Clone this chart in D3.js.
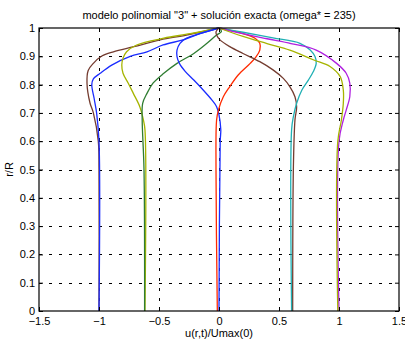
<!DOCTYPE html>
<html><head><meta charset="utf-8">
<script src="https://cdn.jsdelivr.net/npm/d3@7"></script>
<style>
html,body{margin:0;padding:0;background:#fff;}
svg text{font-family:"Liberation Sans",Arial,Helvetica,sans-serif;}
</style></head>
<body><svg id="c" width="405" height="342"></svg>
<script>
// ---- data: each profile is a list of [u/Umax, r/R] pairs ----
const xTicks = [-1.5, -1, -0.5, 0, 0.5, 1, 1.5];
const yTicks = [0, 0.1, 0.2, 0.3, 0.4, 0.5, 0.6, 0.7, 0.8, 0.9, 1];
const titleText = 'modelo polinomial "3" + solución exacta (omega* = 235)';
const xLabel = "u(r,t)/Umax(0)";
const yLabel = "r/R";

const brownA = [[-1.0,0],[-1.0,0.5],[-1.006,0.6],[-1.047,0.7],[-1.075,0.735],[-1.1,0.805],[-1.09,0.85],[-1.047,0.875],[-0.98,0.9],[-0.88,0.916],[-0.71,0.934],[-0.49,0.958],[-0.27,0.975],[0,1]];
const blueA = [[-1.0,0],[-1.0,0.6],[-1.02,0.7],[-1.04,0.75],[-1.06,0.8],[-1.047,0.82],[-0.99,0.84],[-0.894,0.869],[-0.74,0.9],[-0.6,0.916],[-0.466,0.94],[-0.3,0.958],[-0.16,0.98],[0,1]];
const oliveA = [[-0.617,0],[-0.617,0.64],[-0.63,0.675],[-0.66,0.722],[-0.714,0.769],[-0.756,0.805],[-0.8,0.84],[-0.81,0.869],[-0.80,0.893],[-0.77,0.916],[-0.686,0.94],[-0.46,0.964],[-0.24,0.98],[0,1]];
const greenA = [[-0.62,0],[-0.625,0.5],[-0.64,0.675],[-0.636,0.734],[-0.6,0.769],[-0.55,0.805],[-0.46,0.84],[-0.35,0.875],[-0.21,0.91],[-0.10,0.946],[-0.02,0.975],[0.02,0.987],[0.01,0.996],[0,1]];
const blueB = [[0,0],[0.01,0.6],[0.015,0.64],[0,0.693],[-0.02,0.722],[-0.06,0.746],[-0.13,0.78],[-0.21,0.816],[-0.28,0.846],[-0.33,0.875],[-0.35,0.899],[-0.35,0.922],[-0.325,0.946],[-0.27,0.964],[-0.16,0.98],[0,1]];
const redB = [[-0.014,0],[-0.025,0.5],[-0.02,0.675],[-0.005,0.71],[0.036,0.757],[0.09,0.793],[0.16,0.834],[0.26,0.875],[0.31,0.899],[0.34,0.922],[0.34,0.946],[0.30,0.964],[0.2,0.98],[0.06,0.995],[0,1]];
const brownB = [[0.614,0],[0.62,0.51],[0.633,0.675],[0.647,0.722],[0.633,0.757],[0.59,0.793],[0.536,0.822],[0.45,0.852],[0.34,0.881],[0.2,0.91],[0.09,0.934],[0.008,0.958],[-0.02,0.975],[-0.025,0.986],[-0.01,0.996],[0,1]];
const cyanB = [[0.605,0],[0.605,0.64],[0.62,0.687],[0.647,0.734],[0.69,0.78],[0.745,0.816],[0.786,0.846],[0.81,0.875],[0.8,0.899],[0.76,0.922],[0.675,0.946],[0.45,0.965],[0.2,0.985],[0,1]];
const oliveB = [[0.99,0],[0.99,0.6],[1.02,0.675],[1.036,0.734],[1.036,0.78],[1.01,0.828],[0.925,0.864],[0.79,0.887],[0.59,0.922],[0.40,0.945],[0.2,0.97],[0,1]];
const purpleB = [[1.0,0],[1.0,0.6],[1.036,0.675],[1.06,0.71],[1.09,0.757],[1.09,0.805],[1.06,0.84],[0.98,0.875],[0.81,0.922],[0.6,0.945],[0.4,0.962],[0.12,0.987],[0,1]];

const profiles = [brownA, blueA, oliveA, greenA, blueB, redB, brownB, cyanB, purpleB, oliveB];
const colors = ["#743c30", "#1a2cff", "#a6b400", "#2f7d32", "#1a2cff", "#ff2a00", "#743c30", "#20b0b4", "#b020e0", "#a6b400"];

// ---- drawing ----
const W = 405, H = 342;
const m = {left: 39, right: 6, top: 28, bottom: 31};
const svg = d3.select("#c");
const x = d3.scaleLinear().domain([-1.5, 1.5]).range([m.left, W - m.right]);
const y = d3.scaleLinear().domain([0, 1]).range([H - m.bottom, m.top]);
const x0 = x.range()[0], x1 = x.range()[1], y0 = y.range()[0], y1 = y.range()[1];

// grid
const g = svg.append("g");
g.selectAll(".gx").data(xTicks.slice(1, -1)).enter().append("line")
  .attr("x1", d => Math.round(x(d)) + 0.5).attr("x2", d => Math.round(x(d)) + 0.5)
  .attr("y1", y1).attr("y2", y0)
  .attr("stroke", "#000").attr("stroke-width", 1).attr("stroke-dasharray", "3,7");
g.selectAll(".gy").data(yTicks.slice(1, -1)).enter().append("line")
  .attr("y1", d => Math.round(y(d)) + 0.5).attr("y2", d => Math.round(y(d)) + 0.5)
  .attr("x1", x0).attr("x2", x1)
  .attr("stroke", "#000").attr("stroke-width", 1).attr("stroke-dasharray", "3,7");

// curves
const line = d3.line().x(d => x(d[0])).y(d => y(d[1])).curve(d3.curveCatmullRom.alpha(0.5));
svg.append("g").selectAll("path").data(profiles).enter().append("path")
  .attr("d", line).attr("fill", "none")
  .attr("stroke", (d, i) => colors[i]).attr("stroke-width", 1.3);

// axes (MATLAB-style inward ticks on all sides)
const ax = svg.append("g");
const tl = 4;
const axB = d3.axisBottom(x).tickValues(xTicks).tickSizeInner(-tl).tickSizeOuter(0).tickFormat(d3.format("~g"));
const axT = d3.axisTop(x).tickValues(xTicks).tickSizeInner(-tl).tickSizeOuter(0).tickFormat("");
const axL = d3.axisLeft(y).tickValues(yTicks).tickSizeInner(-tl).tickSizeOuter(0).tickFormat(d3.format("~g"));
const axR = d3.axisRight(y).tickValues(yTicks).tickSizeInner(-tl).tickSizeOuter(0).tickFormat("");
function style(sel){
  sel.select(".domain").remove();
  sel.selectAll("line").attr("stroke", "#000");
  sel.selectAll("text").attr("fill", "#000").style("font-size", "11px");
}
ax.append("g").attr("transform", `translate(0,${y0})`).call(axB).call(style)
  .selectAll("text").attr("dy", "0").attr("y", 14);
ax.append("g").attr("transform", `translate(0,${y1})`).call(axT).call(style);
ax.append("g").attr("transform", `translate(${x0},0)`).call(axL).call(style)
  .selectAll("text").attr("x", -4);
ax.append("g").attr("transform", `translate(${x1},0)`).call(axR).call(style);

svg.append("rect").attr("x", x0).attr("y", y1).attr("width", x1 - x0).attr("height", y0 - y1)
  .attr("fill", "none").attr("stroke", "#000").attr("stroke-width", 1.2);

// texts
svg.append("text").attr("x", (x0 + x1) / 2).attr("y", 19).attr("text-anchor", "middle")
  .style("font-size", "11px").text(titleText);
svg.append("text").attr("x", (x0 + x1) / 2).attr("y", 337).attr("text-anchor", "middle")
  .style("font-size", "11px").text(xLabel);
svg.append("text").attr("transform", `translate(13,${(y0 + y1) / 2}) rotate(-90)`).attr("text-anchor", "middle")
  .style("font-size", "11px").text(yLabel);
</script></body></html>
